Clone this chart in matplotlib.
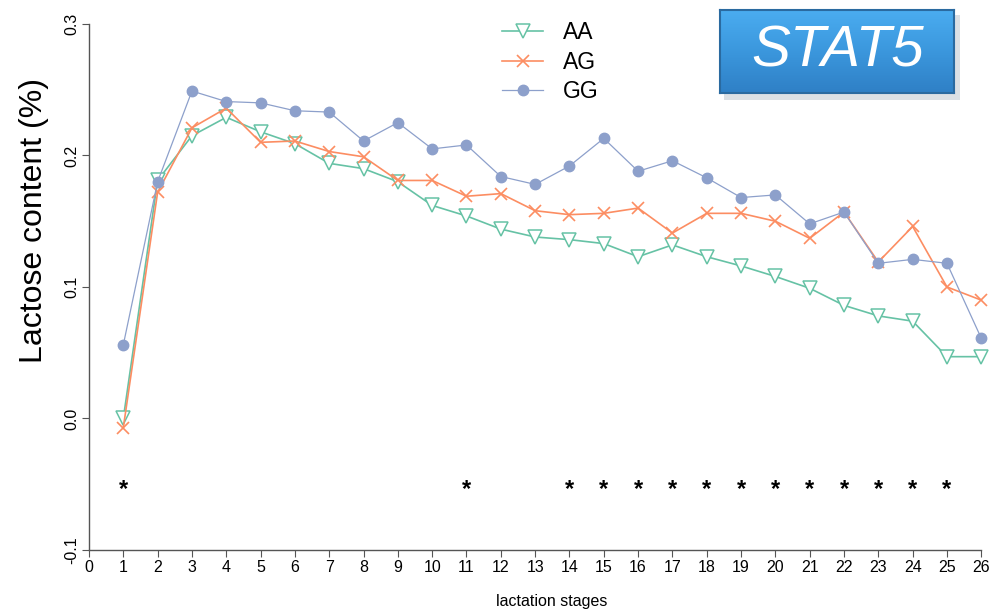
import numpy as np
import matplotlib
matplotlib.use("Agg")
import matplotlib.pyplot as plt
from matplotlib.patches import Rectangle
from matplotlib.colors import LinearSegmentedColormap
from matplotlib.transforms import offset_copy

plt.rcParams['font.family'] = ['Liberation Sans', 'DejaVu Sans']

# lactation stages 1..26
stages = list(range(1, 27))

aa = [0.000, 0.181, 0.215, 0.229, 0.218, 0.209, 0.194, 0.190, 0.180, 0.162,
      0.154, 0.144, 0.138, 0.136, 0.133, 0.123, 0.132, 0.123, 0.116, 0.108,
      0.099, 0.086, 0.078, 0.074, 0.047, 0.047]
ag = [-0.007, 0.172, 0.221, 0.236, 0.210, 0.211, 0.203, 0.199, 0.181, 0.181,
      0.169, 0.171, 0.158, 0.155, 0.156, 0.160, 0.141, 0.156, 0.156, 0.150,
      0.137, 0.157, 0.119, 0.146, 0.100, 0.090]
gg = [0.056, 0.180, 0.249, 0.241, 0.240, 0.234, 0.233, 0.211, 0.225, 0.205,
      0.208, 0.184, 0.178, 0.192, 0.213, 0.188, 0.196, 0.183, 0.168, 0.170,
      0.148, 0.157, 0.118, 0.121, 0.118, 0.061]

# stages marked significant
sig_stages = [1, 11, 14, 15, 16, 17, 18, 19, 20, 21, 22, 23, 24, 25]
sig_y = -0.05

fig = plt.figure(figsize=(9.92, 6.10), dpi=100)
ax = fig.add_axes([0.0897, 0.0984, 0.8995, 0.8623])

ax.plot(stages, aa, color='#66c2a5', lw=1.2, marker='v', ms=9.5, mfc='white',
        mec='#66c2a5', mew=1.1, label='AA', clip_on=False, zorder=3)
ax.plot(stages, ag, color='#fc8d62', lw=1.2, marker='x', ms=8.5, mew=1.2,
        label='AG', clip_on=False, zorder=4)
ax.plot(stages, gg, color='#8da0cb', lw=0.9, marker='o', ms=7.5,
        label='GG', clip_on=False, zorder=5)

star_tr = offset_copy(ax.transData, fig=fig, x=0, y=-5, units='dots')
for s in sig_stages:
    ax.text(s, sig_y, '*', ha='center', va='center', fontsize=17,
            fontweight='bold', color='black', transform=star_tr)

ax.set_xlim(0, 26)
ax.set_ylim(-0.1, 0.3)
ax.set_xticks(range(0, 27))
ax.set_yticks([-0.1, 0.0, 0.1, 0.2, 0.3])
ax.set_yticklabels(['-0.1', '0.0', '0.1', '0.2', '0.3'], rotation=90, va='center')
for sp in ['top', 'right']:
    ax.spines[sp].set_visible(False)
for sp in ['left', 'bottom']:
    ax.spines[sp].set_color('#555555')
    ax.spines[sp].set_linewidth(1.0)
ax.tick_params(axis='both', direction='out', length=5, color='#555555',
               labelsize=11.5, pad=2)

ax.set_ylabel('Lactose content (%)', fontsize=23)
ax.yaxis.set_label_coords(-0.045, 0.627)
fig.text(0.556, 0.002, 'lactation stages', ha='center', va='bottom', fontsize=11.5)

ax.legend(loc='upper left', bbox_to_anchor=(0.440, 1.044), frameon=False,
          fontsize=16.5, handlelength=1.8, handletextpad=0.85, labelspacing=0.27)

# STAT5 badge: shadow + vertical gradient box
fig.patches.append(Rectangle((0.730, 0.836), 0.238, 0.14, transform=fig.transFigure,
                             facecolor='#c4ccd4', edgecolor='none', alpha=0.6, zorder=1))
bx = fig.add_axes([0.726, 0.848, 0.236, 0.136])
bx.set_zorder(10)
grad = np.linspace(0, 1, 64).reshape(-1, 1)
badge_cmap = LinearSegmentedColormap.from_list('badge', ['#4aacf0', '#3b97dd', '#2f80c6'])
bx.imshow(grad, aspect='auto', cmap=badge_cmap, extent=[0, 1, 0, 1], origin='upper')
bx.set_xlim(0, 1)
bx.set_ylim(0, 1)
bx.set_xticks([])
bx.set_yticks([])
for sp in bx.spines.values():
    sp.set_color('#2a6aa0')
    sp.set_linewidth(1.5)
bx.text(0.5, 0.5, 'STAT5', ha='center', va='center', fontsize=42,
        style='italic', color='white', transform=bx.transAxes)

fig.savefig('out.png', dpi=100)
